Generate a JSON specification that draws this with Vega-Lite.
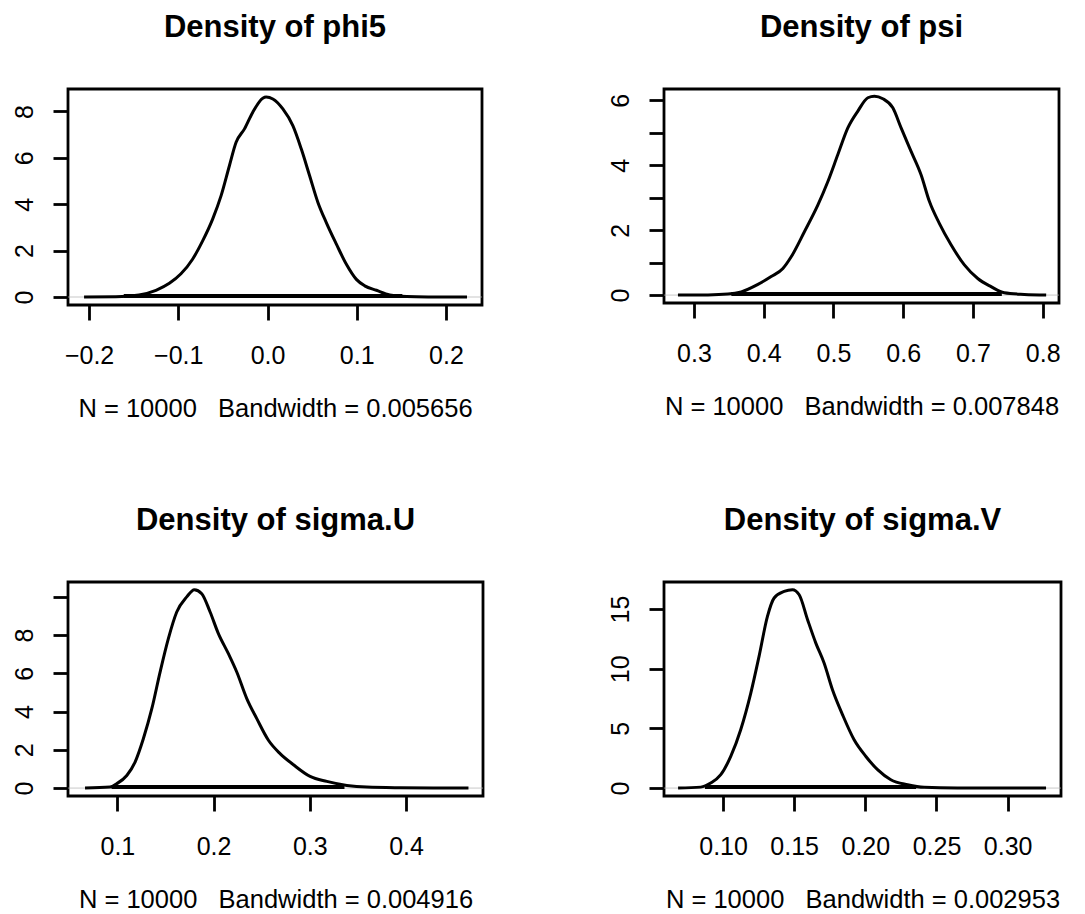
{
  "$schema": "https://vega.github.io/schema/vega-lite/v6.json",
  "background": "white",
  "padding": {"left": 10, "top": 10, "right": 0, "bottom": 0},
  "config": {
    "view": {"stroke": "black", "strokeWidth": 2.8},
    "font": "Liberation Sans",
    "axis": {"domain": false, "grid": false, "ticks": true, "tickColor": "black", "tickWidth": 2.8, "tickSize": 15, "labelFont": "Liberation Sans", "labelFontSize": 25, "labelColor": "black", "titleFont": "Liberation Sans", "titleFontSize": 25.5, "titleFontWeight": "normal", "titleColor": "black", "labelOverlap": false, "labelFlush": false},
    "axisX": {"labelPadding": 23, "titlePadding": 28, "labelBaseline": "top"},
    "axisY": {"labelAngle": -90, "labelAlign": "center", "labelBaseline": "alphabetic", "labelPadding": 21, "title": null},
    "title": {"font": "Liberation Sans", "fontSize": 31, "fontWeight": "bold", "color": "black", "baseline": "alphabetic", "offset": 45, "frame": "group", "anchor": "middle"}
  },
  "datasets": {
    "phi5": [
      {"x": -0.2056, "y": 0}, {"x": -0.17, "y": 0.01}, {"x": -0.144, "y": 0.09}, {"x": -0.125, "y": 0.29}, {"x": -0.110, "y": 0.59}, {"x": -0.097, "y": 1.0}, {"x": -0.084, "y": 1.63}, {"x": -0.0727, "y": 2.42}, {"x": -0.0615, "y": 3.36}, {"x": -0.052, "y": 4.37}, {"x": -0.0427, "y": 5.66}, {"x": -0.0352, "y": 6.67}, {"x": -0.0258, "y": 7.25}, {"x": -0.0165, "y": 7.97}, {"x": -0.0053, "y": 8.57}, {"x": -0.0015, "y": 8.62}, {"x": 0.006, "y": 8.54}, {"x": 0.0172, "y": 8.11}, {"x": 0.0284, "y": 7.39}, {"x": 0.0379, "y": 6.38}, {"x": 0.0472, "y": 5.23}, {"x": 0.0565, "y": 4.08}, {"x": 0.0659, "y": 3.21}, {"x": 0.0772, "y": 2.28}, {"x": 0.0884, "y": 1.41}, {"x": 0.0996, "y": 0.76}, {"x": 0.109, "y": 0.48}, {"x": 0.1221, "y": 0.29}, {"x": 0.137, "y": 0.09}, {"x": 0.156, "y": 0.02}, {"x": 0.18, "y": 0.005}, {"x": 0.2236, "y": 0}
    ],
    "phi5_band": [{"x": -0.16, "x2": 0.15, "y": 0.086, "lo": -0.2236, "hi": 0.2404}],
    "psi": [
      {"x": 0.277, "y": 0}, {"x": 0.32, "y": 0.005}, {"x": 0.3487, "y": 0.03}, {"x": 0.3678, "y": 0.1}, {"x": 0.3917, "y": 0.33}, {"x": 0.4107, "y": 0.57}, {"x": 0.4275, "y": 0.82}, {"x": 0.4394, "y": 1.18}, {"x": 0.4585, "y": 1.96}, {"x": 0.4777, "y": 2.78}, {"x": 0.492, "y": 3.5}, {"x": 0.5063, "y": 4.33}, {"x": 0.5206, "y": 5.15}, {"x": 0.535, "y": 5.67}, {"x": 0.5493, "y": 6.08}, {"x": 0.5588, "y": 6.13}, {"x": 0.5708, "y": 6.05}, {"x": 0.5851, "y": 5.77}, {"x": 0.597, "y": 5.15}, {"x": 0.6113, "y": 4.43}, {"x": 0.6256, "y": 3.71}, {"x": 0.6375, "y": 2.89}, {"x": 0.6518, "y": 2.21}, {"x": 0.6686, "y": 1.55}, {"x": 0.6877, "y": 0.93}, {"x": 0.7069, "y": 0.51}, {"x": 0.726, "y": 0.26}, {"x": 0.745, "y": 0.07}, {"x": 0.7737, "y": 0.02}, {"x": 0.805, "y": 0}
    ],
    "psi_band": [{"x": 0.355, "x2": 0.74, "y": 0.061, "lo": 0.257, "hi": 0.8234}],
    "sigmaU": [
      {"x": 0.0664, "y": 0}, {"x": 0.0924, "y": 0.05}, {"x": 0.0994, "y": 0.23}, {"x": 0.1098, "y": 0.66}, {"x": 0.1184, "y": 1.36}, {"x": 0.127, "y": 2.58}, {"x": 0.1358, "y": 4.15}, {"x": 0.1444, "y": 6.07}, {"x": 0.153, "y": 7.82}, {"x": 0.1617, "y": 9.21}, {"x": 0.1721, "y": 10.0}, {"x": 0.18, "y": 10.38}, {"x": 0.1877, "y": 10.17}, {"x": 0.1964, "y": 9.21}, {"x": 0.205, "y": 8.08}, {"x": 0.2154, "y": 7.03}, {"x": 0.2241, "y": 6.07}, {"x": 0.2345, "y": 4.68}, {"x": 0.2449, "y": 3.63}, {"x": 0.257, "y": 2.5}, {"x": 0.2691, "y": 1.8}, {"x": 0.283, "y": 1.22}, {"x": 0.3003, "y": 0.61}, {"x": 0.3177, "y": 0.35}, {"x": 0.3385, "y": 0.14}, {"x": 0.3593, "y": 0.05}, {"x": 0.3939, "y": 0.02}, {"x": 0.4649, "y": 0}
    ],
    "sigmaU_band": [{"x": 0.095, "x2": 0.335, "y": 0.104, "lo": 0.0487, "hi": 0.48}],
    "sigmaV": [
      {"x": 0.0684, "y": 0}, {"x": 0.0843, "y": 0.08}, {"x": 0.0913, "y": 0.42}, {"x": 0.0984, "y": 1.12}, {"x": 0.1054, "y": 2.65}, {"x": 0.1124, "y": 4.89}, {"x": 0.1195, "y": 7.96}, {"x": 0.1253, "y": 11.04}, {"x": 0.1312, "y": 14.39}, {"x": 0.1359, "y": 15.93}, {"x": 0.1429, "y": 16.48}, {"x": 0.1488, "y": 16.62}, {"x": 0.1535, "y": 16.2}, {"x": 0.1594, "y": 14.11}, {"x": 0.1652, "y": 12.15}, {"x": 0.171, "y": 10.48}, {"x": 0.1769, "y": 8.24}, {"x": 0.184, "y": 6.14}, {"x": 0.1921, "y": 4.05}, {"x": 0.2004, "y": 2.65}, {"x": 0.2086, "y": 1.54}, {"x": 0.2179, "y": 0.7}, {"x": 0.2297, "y": 0.28}, {"x": 0.2413, "y": 0.06}, {"x": 0.2648, "y": 0.01}, {"x": 0.327, "y": 0}
    ],
    "sigmaV_band": [{"x": 0.088, "x2": 0.235, "y": 0.166, "lo": 0.0585, "hi": 0.3375}]
  },
  "columns": 2,
  "bounds": "flush",
  "spacing": {"row": 277, "column": 181},
  "concat": [
    {
      "width": 414, "height": 216,
      "title": "Density of phi5",
      "encoding": {
        "x": {"field": "x", "type": "quantitative", "scale": {"domain": [-0.2236, 0.2404], "nice": false, "zero": false}, "axis": {"values": [-0.2, -0.1, 0, 0.1, 0.2], "format": ".1f", "title": "N = 10000\u00a0\u00a0\u00a0Bandwidth = 0.005656"}},
        "y": {"field": "y", "type": "quantitative", "scale": {"domain": [-0.345, 8.97], "nice": false, "zero": false}, "axis": {"values": [0, 2, 4, 6, 8], "format": "d", "title": null}}
      },
      "layer": [
        {"data": {"name": "phi5_band"}, "mark": {"type": "rule", "color": "#b0b0b0", "strokeWidth": 0.7}, "encoding": {"x": {"field": "lo", "type": "quantitative"}, "x2": {"field": "hi"}, "y": {"datum": 0}}},
        {"data": {"name": "phi5_band"}, "mark": {"type": "rect", "color": "black", "stroke": "black", "strokeWidth": 2}, "encoding": {"x2": {"field": "x2"}, "y2": {"datum": 0}}},
        {"data": {"name": "phi5"}, "mark": {"type": "line", "color": "black", "strokeWidth": 3, "interpolate": "monotone", "strokeJoin": "round"}}
      ]
    },
    {
      "width": 395, "height": 214,
      "title": "Density of psi",
      "encoding": {
        "x": {"field": "x", "type": "quantitative", "scale": {"domain": [0.257, 0.8234], "nice": false, "zero": false}, "axis": {"values": [0.3, 0.4, 0.5, 0.6, 0.7, 0.8], "format": ".1f", "title": "N = 10000\u00a0\u00a0\u00a0Bandwidth = 0.007848"}},
        "y": {"field": "y", "type": "quantitative", "scale": {"domain": [-0.244, 6.35], "nice": false, "zero": false}, "axis": {"values": [0, 1, 2, 3, 4, 5, 6], "format": "d", "labelExpr": "datum.value % 2 === 0 ? datum.label : ''", "title": null}}
      },
      "layer": [
        {"data": {"name": "psi_band"}, "mark": {"type": "rule", "color": "#b0b0b0", "strokeWidth": 0.7}, "encoding": {"x": {"field": "lo", "type": "quantitative"}, "x2": {"field": "hi"}, "y": {"datum": 0}}},
        {"data": {"name": "psi_band"}, "mark": {"type": "rect", "color": "black", "stroke": "black", "strokeWidth": 2}, "encoding": {"x2": {"field": "x2"}, "y2": {"datum": 0}}},
        {"data": {"name": "psi"}, "mark": {"type": "line", "color": "black", "strokeWidth": 3, "interpolate": "monotone", "strokeJoin": "round"}}
      ]
    },
    {
      "width": 415, "height": 214,
      "title": "Density of sigma.U",
      "encoding": {
        "x": {"field": "x", "type": "quantitative", "scale": {"domain": [0.0487, 0.48], "nice": false, "zero": false}, "axis": {"values": [0.1, 0.2, 0.3, 0.4], "format": ".1f", "title": "N = 10000\u00a0\u00a0\u00a0Bandwidth = 0.004916"}},
        "y": {"field": "y", "type": "quantitative", "scale": {"domain": [-0.415, 10.78], "nice": false, "zero": false}, "axis": {"values": [0, 2, 4, 6, 8, 10], "format": "d", "labelExpr": "datum.value === 10 ? '' : datum.label", "title": null}}
      },
      "layer": [
        {"data": {"name": "sigmaU_band"}, "mark": {"type": "rule", "color": "#b0b0b0", "strokeWidth": 0.7}, "encoding": {"x": {"field": "lo", "type": "quantitative"}, "x2": {"field": "hi"}, "y": {"datum": 0}}},
        {"data": {"name": "sigmaU_band"}, "mark": {"type": "rect", "color": "black", "stroke": "black", "strokeWidth": 2}, "encoding": {"x2": {"field": "x2"}, "y2": {"datum": 0}}},
        {"data": {"name": "sigmaU"}, "mark": {"type": "line", "color": "black", "strokeWidth": 3, "interpolate": "monotone", "strokeJoin": "round"}}
      ]
    },
    {
      "width": 397, "height": 214,
      "title": "Density of sigma.V",
      "encoding": {
        "x": {"field": "x", "type": "quantitative", "scale": {"domain": [0.0585, 0.3375], "nice": false, "zero": false}, "axis": {"values": [0.1, 0.15, 0.2, 0.25, 0.3], "format": ".2f", "title": "N = 10000\u00a0\u00a0\u00a0Bandwidth = 0.002953"}},
        "y": {"field": "y", "type": "quantitative", "scale": {"domain": [-0.664, 17.27], "nice": false, "zero": false}, "axis": {"values": [0, 5, 10, 15], "format": "d", "title": null}}
      },
      "layer": [
        {"data": {"name": "sigmaV_band"}, "mark": {"type": "rule", "color": "#b0b0b0", "strokeWidth": 0.7}, "encoding": {"x": {"field": "lo", "type": "quantitative"}, "x2": {"field": "hi"}, "y": {"datum": 0}}},
        {"data": {"name": "sigmaV_band"}, "mark": {"type": "rect", "color": "black", "stroke": "black", "strokeWidth": 2}, "encoding": {"x2": {"field": "x2"}, "y2": {"datum": 0}}},
        {"data": {"name": "sigmaV"}, "mark": {"type": "line", "color": "black", "strokeWidth": 3, "interpolate": "monotone", "strokeJoin": "round"}}
      ]
    }
  ]
}
